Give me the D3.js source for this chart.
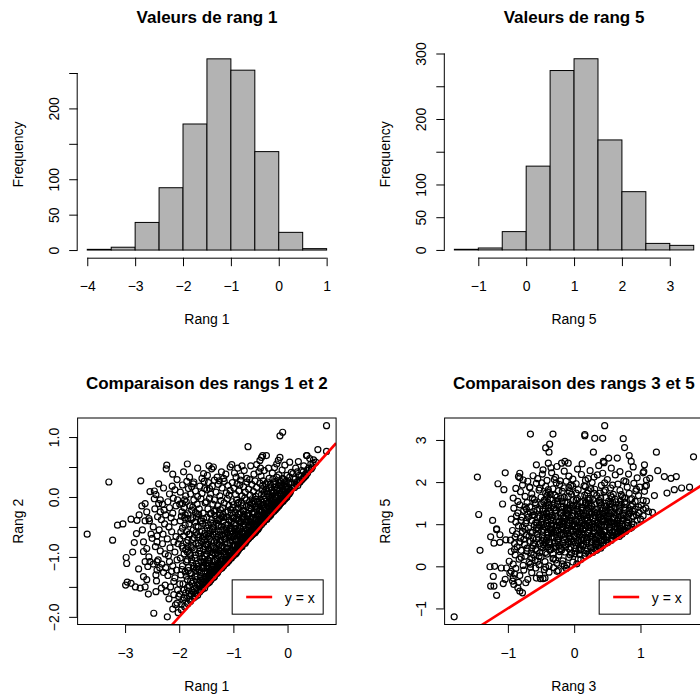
<!DOCTYPE html>
<html><head><meta charset="utf-8">
<script src="https://cdn.jsdelivr.net/npm/d3@7"></script>
<style>html,body{margin:0;padding:0;background:#fff;} svg{display:block;}</style>
</head><body>
<script>
// ---------------- DATA ----------------
const rang1Breaks = [-4,-3.5,-3,-2.5,-2,-1.5,-1,-0.5,0,0.5,1];
const rang1Counts = [1,4,39,88,178,270,254,139,25,2];
const rang5Breaks = [-1.5,-1,-0.5,0,0.5,1,1.5,2,2.5,3,3.5];
const rang5Counts = [1,3,28,128,274,292,168,89,10,7];

const hist1XTicks = [-4,-3,-2,-1,0,1];
const hist1YTicks = [0,50,100,150,200,250];
const hist1YLabels = ["0","50","100","","200",""];
const hist5XTicks = [-1,0,1,2,3];
const hist5YTicks = [0,50,100,150,200,250,300];
const hist5YLabels = ["0","50","100","","200","","300"];
const sc12XTicks = [-3,-2,-1,0];
const sc12YTicks = [-2,-1.5,-1,-0.5,0,0.5,1];
const sc12YLabels = ["−2.0","","−1.0","","0.0","","1.0"];
const sc35XTicks = [-1,0,1];
const sc35YTicks = [-1,0,1,2,3];
const sc35YLabels = ["−1","0","1","2","3"];

const mainTitles = ["Valeurs de rang 1","Valeurs de rang 5","Comparaison des rangs 1 et 2","Comparaison des rangs 3 et 5"];
const xTitles = ["Rang 1","Rang 5","Rang 1","Rang 3"];
const yTitles = ["Frequency","Frequency","Rang 2","Rang 5"];
const legendLabel = "y = x";

// scatter: [rang 1, rang 2]
const rang1VsRang2 = [
[-3.70,-0.62],[-3.30,0.25],[-3.23,-0.72],[-3.14,-0.47],[-3.04,-0.45],
[-2.98,-1.01],[-2.97,-1.11],[-2.99,-1.47],[-2.96,-1.42],[-2.89,-1.44],[-2.89,-0.37],[-2.78,-0.39],[-2.81,-1.50],[-2.72,-1.52],[-2.63,-1.50],[-2.57,-1.62],[-2.71,0.27],[-2.79,-0.61],[-2.83,-0.76],[-2.66,-0.75],[-2.54,0.09],[-2.69,-0.15],[-2.63,-0.11],[-2.60,-0.25],[-2.56,-0.36],[-2.63,-0.40],[-2.55,-0.40],[-2.66,-0.91],[-2.60,-0.86],[-2.56,-1.00],[-2.63,-1.08],[-2.54,-1.08],[-2.58,-1.16],[-2.66,-1.33],[-2.60,-1.38],[-2.75,-1.20],[-2.86,-0.92],[-2.68,-0.55],[-2.52,-0.62],[-2.74,-0.30],
[-2.41,-1.08],[-2.41,-1.22],[-2.43,-1.30],[-2.43,0.04],[-2.46,-0.03],[-2.38,-0.11],[-2.35,-0.25],[-2.41,-0.75],[-2.50,-0.69],[-2.43,-1.58],
[-2.47,-1.94],[-2.22,-2.00],[-2.23,0.53],[-2.24,0.47],[-2.12,0.38],[-2.04,0.29],[-2.13,0.18],
[-2.26,-1.47],[-2.10,-1.41],[-2.24,-1.58],[-2.10,-1.63],[-2.04,-1.77],[-2.07,-1.80],[-2.01,-1.66],
[-2.35,-0.05],[-2.31,-0.12],[-2.28,-0.22],[-2.25,-0.30],[-2.21,-0.08],[-2.18,-0.18],[-2.15,-0.35],[-2.12,-0.27],[-2.09,-0.42],[-2.06,-0.15],[-2.03,-0.05],[-2.33,-0.38],[-2.27,-0.45],[-2.19,-0.50],[-2.11,-0.02],[-2.45,-0.20],[-2.40,-0.33],
[-2.37,-0.55],[-2.30,-0.62],[-2.22,-0.70],[-2.14,-0.58],[-2.06,-0.66],[-2.44,-0.83],[-2.35,-0.90],[-2.26,-0.95],[-2.17,-0.85],[-2.08,-0.92],[-2.02,-0.78],
[-2.39,-1.05],[-2.32,-1.12],[-2.25,-1.18],[-2.18,-1.08],[-2.12,-1.15],[-2.05,-1.22],[-2.29,-1.26],[-2.21,-1.31],[-2.14,-1.24],[-2.08,-1.35],[-2.36,-1.18],[-2.48,-1.12],[-2.42,-1.40],[-2.33,-1.52],[-2.16,-1.50],[-2.03,-1.55],[-2.19,-1.70],[-2.12,-1.87],[-2.02,-1.93],
[-2.46,0.10],[-2.38,0.22],[-2.29,0.15],[-2.18,0.05],[-2.08,0.12],[-2.48,-0.50],[-2.41,-0.65],[-2.31,-0.78],[-2.20,-0.98],[-2.10,-0.75],[-2.04,-1.05],
[-1.85,0.55],[-1.73,0.25],[-1.77,0.17],[-1.58,0.31],[-1.55,0.39],[-1.54,0.26],[-1.92,0.42],[-1.66,0.48],[-1.81,0.33],
[-1.98,0.08],[-1.94,0.20],[-1.88,0.02],[-1.83,0.14],[-1.79,0.05],[-1.74,0.22],[-1.70,0.10],[-1.66,0.01],[-1.62,0.18],[-1.58,0.06],[-1.53,0.14],[-1.90,-0.05],[-1.86,0.26],
[-1.99,-0.12],[-1.95,-0.25],[-1.91,-0.18],[-1.87,-0.08],[-1.84,-0.28],[-1.80,-0.15],[-1.77,-0.22],[-1.73,-0.05],[-1.70,-0.26],[-1.67,-0.12],[-1.63,-0.20],[-1.60,-0.03],[-1.56,-0.27],[-1.52,-0.10],[-1.89,-0.30],[-1.75,-0.17],[-1.64,-0.29],
[-1.98,-0.40],[-1.94,-0.52],[-1.90,-0.35],[-1.86,-0.58],[-1.82,-0.45],[-1.78,-0.38],[-1.74,-0.55],[-1.71,-0.42],[-1.68,-0.33],[-1.65,-0.50],[-1.61,-0.40],[-1.58,-0.57],[-1.55,-0.36],[-1.51,-0.48],[-1.96,-0.32],[-1.84,-0.36],[-1.69,-0.59],[-1.57,-0.44],
[-1.99,-0.70],[-1.95,-0.82],[-1.92,-0.65],[-1.88,-0.88],[-1.84,-0.72],[-1.80,-0.62],[-1.76,-0.85],[-1.72,-0.68],[-1.69,-0.78],[-1.66,-0.63],[-1.62,-0.90],[-1.59,-0.74],[-1.55,-0.66],[-1.52,-0.83],[-1.87,-0.76],[-1.64,-0.81],
[-1.98,-1.02],[-1.94,-1.15],[-1.91,-0.95],[-1.87,-1.08],[-1.83,-1.18],[-1.79,-0.98],[-1.75,-1.10],[-1.71,-1.02],[-1.68,-1.19],[-1.64,-0.94],[-1.60,-1.07],[-1.57,-1.14],[-1.53,-0.99],[-1.85,-0.92],[-1.73,-1.16],
[-1.97,-1.30],[-1.93,-1.45],[-1.89,-1.25],[-1.85,-1.38],[-1.81,-1.48],[-1.78,-1.28],[-1.74,-1.40],[-1.70,-1.22],[-1.67,-1.33],[-1.63,-1.45],[-1.59,-1.26],[-1.55,-1.37],[-1.52,-1.24],
[-1.96,-1.88],[-1.93,-1.72],[-1.90,-1.83],[-1.88,-1.60],[-1.84,-1.78],[-1.81,-1.65],[-1.79,-1.74],[-1.76,-1.56],[-1.73,-1.68],[-1.70,-1.61],[-1.68,-1.52],[-1.66,-1.64],[-1.62,-1.58],[-1.59,-1.55],[-1.56,-1.50],[-1.53,-1.52],[-1.99,-1.62],[-1.91,-1.55],
[-1.48,0.36],[-1.40,0.47],[-1.37,0.50],[-1.30,0.33],[-1.22,0.42],[-1.14,0.38],[-1.06,0.50],[-1.03,0.54],[-1.45,0.52],[-1.18,0.31],
[-1.49,0.12],[-1.46,0.24],[-1.42,0.05],[-1.39,0.18],[-1.35,0.28],[-1.32,0.08],[-1.28,0.21],[-1.25,0.02],[-1.21,0.15],[-1.17,0.26],[-1.13,0.07],[-1.10,0.19],[-1.06,0.11],[-1.02,0.24],[-1.44,0.14],[-1.26,0.27],[-1.08,0.03],
[-1.50,-0.08],[-1.47,-0.20],[-1.44,-0.02],[-1.41,-0.27],[-1.38,-0.12],[-1.35,-0.05],[-1.32,-0.22],[-1.29,-0.15],[-1.26,-0.28],[-1.23,-0.06],[-1.20,-0.18],[-1.17,-0.10],[-1.14,-0.25],[-1.11,-0.03],[-1.08,-0.14],[-1.05,-0.21],[-1.02,-0.08],[-1.36,-0.24],[-1.19,-0.29],[-1.04,-0.27],
[-1.49,-0.34],[-1.46,-0.47],[-1.43,-0.56],[-1.40,-0.38],[-1.37,-0.50],[-1.34,-0.31],[-1.31,-0.44],[-1.28,-0.58],[-1.25,-0.36],[-1.22,-0.49],[-1.19,-0.41],[-1.16,-0.55],[-1.13,-0.33],[-1.10,-0.46],[-1.07,-0.39],[-1.04,-0.52],[-1.01,-0.35],[-1.42,-0.43],[-1.27,-0.47],[-1.12,-0.59],
[-1.50,-0.64],[-1.47,-0.78],[-1.44,-0.69],[-1.41,-0.85],[-1.38,-0.62],[-1.35,-0.74],[-1.32,-0.88],[-1.29,-0.67],[-1.26,-0.80],[-1.23,-0.72],[-1.20,-0.63],[-1.17,-0.84],[-1.14,-0.70],[-1.11,-0.77],[-1.08,-0.65],[-1.05,-0.89],[-1.02,-0.73],[-1.45,-0.87],[-1.30,-0.76],[-1.16,-0.61],
[-1.49,-0.95],[-1.46,-1.10],[-1.43,-1.02],[-1.40,-1.16],[-1.37,-0.93],[-1.34,-1.06],[-1.31,-1.18],[-1.28,-0.98],[-1.25,-1.12],[-1.22,-1.04],[-1.19,-0.92],[-1.16,-1.08],[-1.13,-0.97],[-1.10,-1.05],[-1.07,-0.94],[-1.04,-1.00],[-1.38,-1.14],[-1.24,-0.91],
[-1.48,-1.26],[-1.47,-1.44],[-1.45,-1.35],[-1.43,-1.22],[-1.41,-1.38],[-1.39,-1.30],[-1.37,-1.25],[-1.35,-1.33],[-1.33,-1.21],[-1.31,-1.28],[-1.29,-1.24],[-1.27,-1.22],[-1.25,-1.20],[-1.46,-1.40],[-1.42,-1.28],[-1.36,-1.20],[-1.50,-1.46],[-1.44,-1.42],[-1.21,-1.18],[-1.18,-1.15],[-1.15,-1.12],[-1.12,-1.10],
[-0.73,0.84],[-0.98,0.40],[-0.92,0.48],[-0.86,0.35],[-0.80,0.44],[-0.75,0.31],[-0.68,0.52],[-0.62,0.38],[-0.57,0.54],[-0.53,0.42],[-0.95,0.33],[-0.84,0.52],[-0.51,0.61],[-0.46,0.69],[-0.50,0.48],
[-0.99,0.15],[-0.96,0.04],[-0.93,0.22],[-0.90,0.10],[-0.87,0.28],[-0.84,0.02],[-0.81,0.17],[-0.78,0.08],[-0.75,0.25],[-0.72,0.13],[-0.69,0.03],[-0.66,0.21],[-0.63,0.09],[-0.60,0.27],[-0.57,0.16],[-0.54,0.05],[-0.51,0.23],[-0.88,0.20],[-0.70,0.29],[-0.59,0.01],
[-1.00,-0.13],[-0.97,-0.25],[-0.94,-0.05],[-0.91,-0.19],[-0.88,-0.28],[-0.85,-0.10],[-0.82,-0.22],[-0.79,-0.02],[-0.76,-0.16],[-0.73,-0.27],[-0.70,-0.08],[-0.67,-0.20],[-0.64,-0.12],[-0.61,-0.26],[-0.58,-0.04],[-0.55,-0.17],[-0.52,-0.24],[-0.92,-0.11],[-0.80,-0.29],[-0.65,-0.03],[-0.53,-0.09],
[-0.99,-0.35],[-0.96,-0.48],[-0.93,-0.57],[-0.90,-0.40],[-0.87,-0.52],[-0.84,-0.33],[-0.81,-0.45],[-0.78,-0.58],[-0.75,-0.38],[-0.72,-0.50],[-0.69,-0.42],[-0.66,-0.55],[-0.63,-0.34],[-0.60,-0.47],[-0.57,-0.39],[-0.54,-0.52],[-0.51,-0.31],[-0.97,-0.55],[-0.82,-0.37],[-0.62,-0.58],
[-0.99,-0.66],[-0.97,-0.80],[-0.95,-0.71],[-0.93,-0.87],[-0.91,-0.63],[-0.89,-0.76],[-0.87,-0.84],[-0.85,-0.68],[-0.83,-0.79],[-0.81,-0.62],[-0.79,-0.73],[-0.77,-0.66],[-0.75,-0.70],[-0.73,-0.64],[-0.71,-0.61],[-0.69,-0.65],[-0.67,-0.62],[-0.65,-0.63],[-0.63,-0.61],[-0.98,-0.92],[-0.96,-0.95],[-0.92,-0.90],[-0.90,-0.86],[-0.86,-0.82],[-0.76,-0.74],[-0.58,-0.57],[-0.55,-0.53],[-0.52,-0.50],
[-1.00,-0.98],[-0.94,-0.93],[-0.88,-0.85],[-0.84,-0.83],[-0.78,-0.77],[-0.72,-0.68],[-0.68,-0.66],[-0.60,-0.59],
[-0.48,0.66],[-0.39,0.69],[-0.14,0.66],[-0.17,0.61],[-0.20,0.55],[-0.05,0.53],[-0.14,1.02],[-0.09,1.08],
[-0.49,0.35],[-0.46,0.12],[-0.43,0.44],[-0.40,0.22],[-0.37,0.05],[-0.34,0.31],[-0.31,0.17],[-0.28,0.40],[-0.25,0.08],[-0.22,0.26],[-0.19,0.14],[-0.16,0.37],[-0.13,0.20],[-0.10,0.45],[-0.07,0.29],[-0.04,0.10],[-0.01,0.36],[-0.35,0.48],[-0.24,0.49],[-0.45,0.27],[-0.29,0.02],
[-0.50,-0.12],[-0.47,-0.25],[-0.44,-0.04],[-0.41,-0.18],[-0.38,-0.29],[-0.35,-0.09],[-0.32,-0.21],[-0.29,-0.14],[-0.26,-0.03],[-0.23,-0.17],[-0.20,-0.08],[-0.17,-0.13],[-0.14,-0.06],[-0.11,-0.02],[-0.42,-0.30],[-0.33,-0.27],
[-0.49,-0.40],[-0.48,-0.46],[-0.46,-0.35],[-0.44,-0.42],[-0.42,-0.38],[-0.40,-0.34],[-0.38,-0.37],[-0.36,-0.32],[-0.34,-0.33],[-0.31,-0.30],[-0.28,-0.26],[-0.25,-0.24],[-0.22,-0.21],[-0.19,-0.18],[-0.16,-0.15],[-0.12,-0.10],[-0.08,-0.07],[-0.05,-0.04],[-0.02,-0.01],
[0.04,0.58],[0.20,0.59],[0.35,0.69],[0.41,0.64],[0.36,0.69],[0.02,0.22],[0.05,0.08],[0.07,0.41],[0.09,0.15],[0.11,0.30],[0.13,0.16],[0.15,0.48],[0.17,0.25],[0.19,0.19],[0.22,0.36],[0.24,0.27],[0.26,0.44],[0.28,0.31],[0.30,0.52],[0.33,0.38],[0.36,0.45],[0.39,0.48],[0.43,0.55],[0.46,0.50],[0.48,0.62],[0.03,0.05],
[0.72,1.19],[0.72,0.76],[0.56,0.79],
[-1.79,-1.41],[-1.77,-1.05],[-1.76,-0.71],[-1.74,-1.59],[-1.72,-0.88],[-1.71,-1.33],[-1.69,-0.49],[-1.68,-1.12],[-1.66,-1.47],[-1.65,-0.77],[-1.63,-1.21],[-1.62,-0.58],[-1.61,-1.39],[-1.60,-0.95],[-1.58,-1.18],[-1.57,-0.69],[-1.56,-1.43],[-1.55,-0.87],[-1.54,-1.09],[-1.53,-0.61],[-1.52,-1.33],[-1.51,-0.79],[-1.81,-0.94],[-1.78,-1.62],[-1.75,-0.35],[-1.70,-1.66],[-1.67,-0.28],[-1.64,-1.55],[-1.59,-0.40],[-1.57,-1.53],
[-1.49,-1.15],[-1.48,-0.52],[-1.47,-0.89],[-1.46,-1.31],[-1.45,-0.61],[-1.44,-1.07],[-1.43,-0.28],[-1.42,-1.36],[-1.41,-0.73],[-1.40,-0.97],[-1.39,-1.21],[-1.38,-0.44],[-1.37,-0.83],[-1.36,-1.34],[-1.35,-0.58],[-1.34,-0.95],[-1.33,-1.27],[-1.32,-0.37],[-1.31,-0.71],[-1.30,-1.05],[-1.29,-1.26],[-1.28,-0.49],[-1.27,-0.88],[-1.26,-1.17],[-1.25,-0.63],[-1.24,-0.21],[-1.23,-0.98],[-1.22,-1.19],[-1.21,-0.55],[-1.20,-0.82],[-1.19,-1.13],[-1.18,-0.34],[-1.17,-0.96],[-1.16,-0.70],[-1.15,-1.09],[-1.14,-0.47],[-1.13,-0.86],[-1.12,-1.04],[-1.11,-0.60],[-1.10,-0.25],[-1.09,-0.92],[-1.08,-1.06],[-1.07,-0.53],[-1.06,-0.77],[-1.05,-0.99],[-1.04,-0.41],[-1.03,-0.66],[-1.02,-0.95],[-1.01,-0.18],[-1.00,-0.83],
[-1.485,-1.38],[-1.455,-1.19],[-1.415,-1.25],[-1.385,-1.32],[-1.345,-1.16],[-1.315,-1.22],[-1.275,-1.10],[-1.245,-1.15],[-1.205,-1.07],[-1.175,-1.12],[-1.135,-1.01],[-1.105,-1.08],[-1.065,-0.99],[-1.035,-1.02],
[-0.99,-0.81],[-0.98,-0.44],[-0.97,-0.62],[-0.96,-0.89],[-0.95,-0.21],[-0.94,-0.74],[-0.93,-0.38],[-0.92,-0.81],[-0.91,-0.56],[-0.90,-0.09],[-0.89,-0.67],[-0.88,-0.43],[-0.87,-0.77],[-0.86,-0.26],[-0.85,-0.58],[-0.84,-0.71],[-0.83,-0.15],[-0.82,-0.49],[-0.81,-0.76],[-0.80,-0.33],[-0.79,-0.61],[-0.78,-0.72],[-0.77,-0.42],[-0.76,-0.05],[-0.75,-0.56],[-0.74,-0.69],[-0.73,-0.31],[-0.72,-0.60],[-0.71,-0.47],[-0.70,-0.19],[-0.69,-0.63],[-0.68,-0.36],[-0.67,-0.54],[-0.66,-0.10],[-0.65,-0.44],[-0.64,-0.61],[-0.63,-0.25],[-0.62,-0.50],[-0.61,-0.39],[-0.60,-0.56],[-0.59,-0.16],[-0.58,-0.45],[-0.57,-0.53],[-0.56,-0.30],[-0.55,-0.07],[-0.54,-0.41],[-0.53,-0.49],[-0.52,-0.22],[-0.51,-0.44],[-0.50,-0.35],
[-0.965,-0.90],[-0.935,-0.84],[-0.905,-0.88],[-0.875,-0.79],[-0.845,-0.80],[-0.815,-0.70],[-0.785,-0.75],[-0.755,-0.65],[-0.725,-0.70],[-0.695,-0.58],[-0.665,-0.64],[-0.635,-0.55],[-0.605,-0.60],[-0.575,-0.50],[-0.545,-0.54],[-0.515,-0.46],
[-0.49,-0.21],[-0.48,0.04],[-0.47,-0.37],[-0.46,0.19],[-0.45,-0.13],[-0.44,-0.31],[-0.43,0.08],[-0.42,-0.22],[-0.41,-0.38],[-0.40,0.13],[-0.39,-0.07],[-0.38,-0.20],[-0.37,0.25],[-0.36,-0.15],[-0.35,-0.31],[-0.34,0.02],[-0.33,-0.10],[-0.32,0.21],[-0.31,-0.24],[-0.30,-0.05],[-0.29,0.11],[-0.28,-0.19],[-0.27,0.30],[-0.26,-0.09],[-0.25,-0.18],[-0.24,0.16],[-0.23,-0.01],[-0.22,-0.14],[-0.21,0.07],[-0.20,0.33],[-0.19,-0.11],[-0.18,0.02],[-0.17,0.19],[-0.16,-0.07],[-0.15,0.10],[-0.14,-0.03],[-0.13,0.26],[-0.12,0.04],[-0.11,-0.08],[-0.10,0.14],[-0.09,0.31],[-0.08,0.01],[-0.07,0.09],[-0.06,0.22],[-0.05,-0.02],[-0.04,0.17],[-0.03,0.05],[-0.02,0.27],[-0.01,0.12],[0.00,0.03],
[-1.99,-1.45],[-1.97,-0.58],[-1.95,-1.21],[-1.93,-0.86],[-1.91,-1.68],[-1.89,-0.47],[-1.87,-1.32],[-1.85,-1.05],[-1.83,-1.57],[-1.82,-0.62],[-1.80,-1.27],[-1.96,-1.79],[-1.94,-0.11],[-1.86,-1.69],[-1.84,-0.83],
[0.01,0.14],[0.04,0.33],[0.06,0.11],[0.08,0.24],[0.10,0.39],[0.12,0.19],[0.14,0.30],[0.16,0.21],[0.18,0.42],[0.21,0.28],[0.23,0.25],[0.25,0.35],[0.27,0.29],[0.29,0.42],[0.31,0.33],[0.34,0.36],[0.37,0.40],[0.40,0.45],[0.44,0.47],[0.47,0.56],[0.52,0.58],
[-1.58,-1.02],[-1.55,-1.27],[-1.53,-0.72],[-1.51,-1.41],[-1.49,-0.80],[-1.47,-1.05],[-1.46,-0.66],[-1.44,-1.29],[-1.42,-0.91],[-1.40,-1.33],[-1.39,-0.55],[-1.37,-1.08],[-1.35,-0.86],[-1.34,-1.25],[-1.32,-0.62],[-1.30,-0.93],[-1.29,-1.17],[-1.27,-0.39],[-1.26,-0.74],[-1.24,-1.08],[-1.22,-0.85],[-1.21,-0.33],[-1.19,-1.04],[-1.18,-0.66],[-1.16,-0.91],[-1.14,-1.10],[-1.13,-0.52],[-1.11,-0.85],[-1.10,-0.99],[-1.08,-0.38],[-1.07,-0.72],[-1.05,-0.90],[-1.04,-0.57],[-1.02,-0.97],[-1.01,-0.62],
[-0.99,-0.52],[-0.97,-0.91],[-0.95,-0.37],[-0.94,-0.64],[-0.92,-0.85],[-0.91,-0.29],[-0.89,-0.53],[-0.87,-0.69],[-0.86,-0.41],[-0.84,-0.79],[-0.83,-0.58],[-0.81,-0.24],[-0.80,-0.69],[-0.78,-0.47],[-0.77,-0.74],[-0.75,-0.31],[-0.74,-0.62],[-0.72,-0.42],[-0.71,-0.68],[-0.69,-0.14],[-0.68,-0.50],[-0.66,-0.60],[-0.65,-0.27],[-0.63,-0.46],[-0.62,-0.07],[-0.60,-0.36],[-0.59,-0.54],[-0.57,-0.21],[-0.56,-0.47],[-0.54,-0.32],[-0.53,-0.12],[-0.51,-0.39],
[-0.49,-0.30],[-0.47,-0.09],[-0.46,-0.42],[-0.44,-0.19],[-0.43,0.02],[-0.41,-0.33],[-0.40,-0.11],[-0.38,0.09],[-0.37,-0.26],[-0.35,-0.18],[-0.34,0.14],[-0.32,-0.29],[-0.31,-0.02],[-0.29,-0.22],[-0.28,0.06],[-0.26,-0.14],[-0.25,0.22],[-0.23,-0.20],[-0.22,0.01],[-0.20,-0.15],[-0.19,0.11],[-0.17,-0.09],[-0.16,0.24],[-0.14,-0.12],[-0.13,0.07],[-0.11,0.19],[-0.10,-0.05],[-0.08,0.12],[-0.07,-0.03],[-0.05,0.25],[-0.04,0.04],[-0.02,0.17],[-0.01,0.00],
[-1.85,-1.51],[-1.83,-1.23],[-1.80,-1.71],[-1.78,-0.83],[-1.76,-1.44],[-1.74,-1.19],[-1.72,-1.53],[-1.70,-0.97],[-1.68,-1.38],[-1.66,-1.16],[-1.64,-0.68],[-1.62,-1.49],[-1.60,-1.33],[-1.59,-1.09],[-1.57,-1.46],[-1.55,-1.19],[-1.53,-1.38],[-1.51,-1.11]
];

// scatter: [rang 3, rang 5]
const rang3VsRang5 = [
[-1.81,-1.20],[-0.66,3.14],[-0.32,3.14],[-0.43,2.81],[-0.37,2.90],[-0.38,2.71],[-1.46,2.12],[-1.04,2.22],[-1.15,1.96],[-1.06,1.82],[-1.08,1.48],[-1.44,1.23],[-1.23,1.09],[-1.17,0.89],[-1.26,0.70],[-1.21,0.55],[-1.12,0.57],[-1.03,0.63],[-1.12,0.75],[-1.17,0.87],[-1.42,0.38],[-1.27,-0.01],[-1.20,0.00],[-1.10,-0.04],[-1.02,-0.04],[-1.22,-0.24],[-1.26,-0.47],[-1.21,-0.47],[-1.17,-0.69],[-1.07,-0.41],[-1.04,-0.31],[-0.92,-0.28],[-0.90,-0.18],[-0.97,-0.16],[-0.93,-0.35],[-0.91,-0.43],[-0.85,-0.51],[-0.82,-0.59],[-0.78,-0.63],[-0.73,-0.39],[-0.57,-0.28],[-0.51,-0.29],[-0.47,-0.29],[-0.44,-0.28],[-0.26,-0.12],
[0.46,3.34],[0.16,3.10],[0.16,3.13],[0.31,3.04],[0.43,3.04],[0.74,3.03],[0.76,2.82],[0.83,2.63],[0.86,2.49],[0.29,2.71],[1.24,2.71],[1.80,2.60],[0.65,2.57],[0.52,2.57],[0.44,2.49],[1.06,2.41],[1.26,2.27],[1.36,2.13],[1.46,2.09],[1.54,2.13],[1.51,1.82],[1.62,1.86],[1.74,1.88],[1.40,1.74],[1.21,1.68],[1.18,1.28],[1.14,2.09],[1.05,2.25],[1.07,1.90],[1.09,1.55],[1.04,1.35],
[-0.82,2.21],[-0.84,2.13],[-0.82,2.10],[-0.77,2.05],[-0.57,2.41],[-0.47,2.29],[-0.39,2.45],[-0.26,2.37],[-0.19,2.45],[-0.14,2.49],[-0.09,2.45],
[-0.70,2.02],[-0.62,2.15],[-0.55,2.08],[-0.48,2.19],[-0.41,2.04],[-0.34,2.22],[-0.28,2.11],[-0.21,2.03],[-0.15,2.26],[-0.08,2.14],[-0.02,2.07],[0.05,2.31],[0.11,2.18],[0.17,2.04],[0.24,2.27],[0.30,2.12],[0.37,2.39],[0.43,2.21],[0.50,2.06],[0.56,2.33],[0.62,2.17],[0.69,2.25],[0.75,2.03],[0.82,2.19],[0.89,2.36],[0.95,2.10],[1.04,2.22],[1.09,2.05],[0.12,2.43],[0.45,2.46],[-0.35,2.34],
[-0.92,1.62],[-0.88,1.85],[-0.85,1.54],[-0.81,1.77],[-0.78,1.93],[-0.74,1.66],[-0.71,1.51],[-0.67,1.88],[-0.64,1.72],[-0.60,1.58],[-0.57,1.97],[-0.53,1.81],[-0.50,1.64],[-0.46,1.53],[-0.43,1.90],[-0.39,1.75],[-0.36,1.60],[-0.32,1.84],[-0.29,1.69],[-0.25,1.55],[-0.22,1.94],[-0.18,1.78],[-0.15,1.63],[-0.11,1.51],[-0.08,1.87],[-0.04,1.71],[-0.01,1.58],[0.03,1.96],[0.06,1.82],[0.10,1.67],[0.13,1.53],[0.17,1.89],[0.20,1.74],[0.24,1.61],[0.27,1.99],[0.31,1.83],[0.34,1.68],[0.38,1.52],[0.41,1.92],[0.45,1.77],[0.48,1.63],[0.52,1.55],[0.55,1.86],[0.59,1.71],[0.62,1.59],[0.66,1.95],[0.69,1.80],[0.73,1.65],[0.76,1.52],[0.80,1.88],[0.83,1.73],[0.87,1.60],[0.90,1.97],[0.94,1.83],[0.97,1.68],[1.04,1.56],[1.06,1.78],[1.09,1.92],[-0.02,1.90],[0.22,1.57],[0.46,1.98],[-0.40,1.52],[0.70,1.55],[-0.27,1.98],
[-0.95,1.12],[-0.91,1.38],[-0.88,1.05],[-0.85,1.27],[-0.82,1.46],[-0.79,1.17],[-0.76,1.33],[-0.73,1.02],[-0.70,1.24],[-0.67,1.41],[-0.64,1.09],[-0.61,1.30],[-0.58,1.48],[-0.55,1.15],[-0.52,1.36],[-0.49,1.04],[-0.46,1.22],[-0.43,1.44],[-0.40,1.11],[-0.37,1.29],[-0.34,1.01],[-0.31,1.39],[-0.28,1.18],[-0.25,1.47],[-0.22,1.07],[-0.19,1.26],[-0.16,1.42],[-0.13,1.13],[-0.10,1.34],[-0.07,1.03],[-0.04,1.21],[-0.01,1.45],[0.02,1.10],[0.05,1.31],[0.08,1.06],[0.11,1.40],[0.14,1.19],[0.17,1.49],[0.20,1.08],[0.23,1.28],[0.26,1.43],[0.29,1.14],[0.32,1.35],[0.35,1.02],[0.38,1.23],[0.41,1.46],[0.44,1.11],[0.47,1.32],[0.50,1.05],[0.53,1.25],[0.56,1.41],[0.59,1.16],[0.62,1.37],[0.65,1.08],[0.68,1.29],[0.71,1.47],[0.74,1.13],[0.77,1.33],[0.80,1.04],[0.83,1.24],[0.86,1.42],[0.89,1.18],[0.92,1.36],[0.95,1.10],[0.98,1.27],[1.01,1.45],[1.04,1.20],[1.08,1.38],[1.12,1.30],
[-0.87,1.20],[-0.80,1.09],[-0.72,1.36],[-0.63,1.21],[-0.56,1.03],[-0.47,1.31],[-0.39,1.44],[-0.33,1.16],[-0.24,1.04],[-0.18,1.35],[-0.09,1.22],[-0.03,1.09],[0.04,1.44],[0.09,1.25],[0.16,1.12],[0.22,1.38],[0.28,1.01],[0.34,1.26],[0.40,1.17],[0.46,1.43],[0.52,1.12],[0.58,1.30],[0.64,1.02],[0.70,1.19],[0.76,1.40],[0.82,1.10],[0.88,1.31],[0.94,1.21],[-0.15,1.16],[0.12,1.33],[0.31,1.48],[-0.42,1.27],[0.55,1.49],[0.73,1.26],[-0.06,1.38],[0.19,1.22],[-0.27,1.32],[0.43,1.06],
[-0.96,0.62],[-0.93,0.85],[-0.90,0.54],[-0.87,0.77],[-0.84,0.96],[-0.81,0.67],[-0.78,0.83],[-0.75,0.52],[-0.72,0.74],[-0.69,0.91],[-0.66,0.59],[-0.63,0.80],[-0.60,0.98],[-0.57,0.65],[-0.54,0.86],[-0.51,0.54],[-0.48,0.72],[-0.45,0.94],[-0.42,0.61],[-0.39,0.79],[-0.36,0.51],[-0.33,0.89],[-0.30,0.68],[-0.27,0.97],[-0.24,0.57],[-0.21,0.76],[-0.18,0.92],[-0.15,0.63],[-0.12,0.84],[-0.09,0.53],[-0.06,0.71],[-0.03,0.95],[0.00,0.60],[0.03,0.81],[0.06,0.56],[0.09,0.90],[0.12,0.69],[0.15,0.99],[0.18,0.58],[0.21,0.78],[0.24,0.93],[0.27,0.64],[0.30,0.85],[0.33,0.52],[0.36,0.73],[0.39,0.96],[0.42,0.61],[0.45,0.82],[0.48,0.55],[0.51,0.75],[0.54,0.91],[0.57,0.66],[0.60,0.87],[0.63,0.70],[0.66,0.79],[0.69,0.95],[0.72,0.76],[0.75,0.88],[0.78,0.83],[0.81,0.97],[0.84,0.90],[0.87,0.93],[0.90,0.99],
[-0.89,0.70],[-0.82,0.58],[-0.74,0.88],[-0.68,0.72],[-0.61,0.55],[-0.53,0.97],[-0.46,0.66],[-0.38,0.57],[-0.31,0.80],[-0.25,0.71],[-0.17,0.55],[-0.11,0.97],[-0.04,0.64],[0.02,0.89],[0.08,0.74],[0.14,0.52],[0.20,0.95],[0.26,0.72],[0.32,0.63],[0.38,0.88],[0.44,0.70],[0.50,0.97],[0.56,0.62],[0.62,0.93],[0.68,0.71],[0.74,0.81],[-0.56,0.76],[-0.20,0.86],[0.11,0.61],[0.41,0.78],[-0.35,0.69],[0.05,0.77],
[-0.98,0.12],[-0.95,0.35],[-0.92,0.05],[-0.89,0.27],[-0.86,0.46],[-0.83,0.17],[-0.80,0.38],[-0.77,0.02],[-0.74,0.24],[-0.71,0.43],[-0.68,0.09],[-0.65,0.31],[-0.62,0.49],[-0.59,0.14],[-0.56,0.37],[-0.53,0.04],[-0.50,0.22],[-0.47,0.44],[-0.44,0.11],[-0.41,0.29],[-0.38,0.01],[-0.35,0.40],[-0.32,0.18],[-0.29,0.47],[-0.26,0.07],[-0.23,0.26],[-0.20,0.42],[-0.17,0.13],[-0.14,0.34],[-0.11,0.03],[-0.08,0.21],[-0.05,0.45],[-0.02,0.10],[0.01,0.30],[0.04,0.06],[0.07,0.39],[0.10,0.16],[0.13,0.48],[0.16,0.25],[0.19,0.36],[0.22,0.29],[0.25,0.44],[0.28,0.33],[0.31,0.41],[0.34,0.38],[0.37,0.46],[0.40,0.43],[0.43,0.49],[-0.90,0.40],[-0.64,0.20],[-0.40,0.46],[-0.15,0.01],[0.08,0.28],[-0.52,0.32],[-0.28,0.15],[0.02,0.42],
[-0.95,-0.12],[-0.88,-0.05],[-0.82,-0.22],[-0.76,-0.09],[-0.70,-0.31],[-0.64,-0.15],[-0.58,-0.04],[-0.52,-0.20],[-0.45,-0.08],[-0.38,-0.14],[-0.31,-0.03],[-0.24,-0.10],[-0.84,-0.38],[-0.66,-0.02],[-0.12,-0.05],
[-0.78,0.93],[-0.74,1.41],[-0.71,0.36],[-0.69,1.17],[-0.66,0.81],[-0.63,1.62],[-0.61,0.27],[-0.58,1.04],[-0.56,1.33],[-0.54,0.69],[-0.52,1.86],[-0.50,0.47],[-0.48,1.13],[-0.47,0.88],[-0.45,1.57],[-0.43,0.33],[-0.42,1.02],[-0.40,0.74],[-0.39,1.38],[-0.37,0.58],[-0.36,1.71],[-0.34,0.95],[-0.33,1.21],[-0.31,0.43],[-0.30,1.49],[-0.28,0.83],[-0.27,1.08],[-0.25,0.62],[-0.24,1.79],[-0.22,0.98],[-0.21,1.27],[-0.19,0.39],[-0.18,1.55],[-0.16,0.77],[-0.15,1.06],[-0.13,0.51],[-0.12,1.36],[-0.10,0.89],[-0.09,1.66],[-0.07,0.67],[-0.06,1.15],[-0.04,0.31],[-0.03,1.43],[-0.01,0.84],[0.00,1.01],[0.02,0.56],[0.03,1.74],[0.05,0.93],[0.06,1.24],[0.08,0.45],[0.09,1.52],[0.11,0.79],[0.12,1.09],[0.14,0.62],[0.15,1.91],[0.17,0.97],[0.18,1.31],[0.20,0.41],[0.21,1.61],[0.23,0.86],[0.24,1.17],[0.26,0.55],[0.27,1.42],[0.29,0.92],[0.30,1.73],[0.32,0.68],[0.33,1.04],[0.35,1.29],[0.36,0.49],[0.38,1.56],[0.39,0.81],[0.41,1.12],[0.42,0.60],[0.44,1.37],[0.45,0.94],[0.47,1.81],[0.48,0.71],[0.50,1.19],[0.51,0.57],[0.53,1.47],[0.54,0.86],[0.56,1.05],[0.57,1.64],[0.59,0.73],[0.60,1.26],[0.62,0.95],[0.63,1.53],[0.65,0.78],[0.66,1.11],[0.68,1.38],[0.69,0.84],[0.71,1.70],[0.72,0.99],[0.74,1.22],[0.75,0.86],[0.77,1.48],[0.79,1.07],[0.81,0.91],[0.83,1.33],[0.85,1.58],[0.87,1.01],[0.89,1.19],
[-0.76,0.64],[-0.72,1.08],[-0.67,1.87],[-0.64,0.43],[-0.60,1.22],[-0.57,0.91],[-0.53,0.24],[-0.49,1.49],[-0.46,0.99],[-0.44,0.56],[-0.41,1.68],[-0.38,1.18],[-0.35,0.85],[-0.32,0.29],[-0.29,1.33],[-0.26,0.93],[-0.23,0.48],[-0.20,1.62],[-0.17,1.01],[-0.14,0.71],[-0.11,1.25],[-0.08,0.42],[-0.05,1.92],[-0.02,0.99],[0.01,0.73],[0.04,1.36],[0.07,0.61],[0.10,1.15],[0.13,0.87],[0.16,1.45],[0.19,0.68],[0.22,1.03],[0.25,1.84],[0.28,0.77],[0.31,1.21],[0.34,0.58],[0.37,0.99],[0.40,1.51],[0.43,0.74],[0.46,1.27],[0.49,0.63],[0.52,1.02],[0.55,1.68],[0.58,0.82],[0.61,1.14],[0.64,0.72],[0.67,1.45],[0.70,0.89],[0.73,1.08],[0.76,1.62],[0.80,1.16],[0.84,1.27],[0.88,1.48],[0.92,1.54],
[-0.55,0.12],[-0.43,-0.02],[-0.31,0.19],[-0.18,0.06],[-0.06,0.27],[0.06,0.17],[0.17,0.31],[0.27,0.37],[-0.66,0.05],[-0.80,0.21],[-0.49,1.98],[-0.12,2.02],[0.21,2.08],[0.58,1.93],[0.35,2.17],[-0.30,2.06],[0.78,2.01],[0.93,1.79],[0.97,1.41],[1.00,1.12],[0.99,1.88],
[-0.49,0.83],[-0.47,1.36],[-0.46,0.51],[-0.44,1.16],[-0.43,1.73],[-0.41,0.68],[-0.40,0.95],[-0.38,1.47],[-0.37,0.39],[-0.35,1.11],[-0.34,0.79],[-0.32,1.58],[-0.31,0.97],[-0.29,0.55],[-0.28,1.26],[-0.26,1.64],[-0.25,0.86],[-0.23,1.05],[-0.22,0.35],[-0.20,1.41],[-0.19,0.74],[-0.17,1.19],[-0.16,0.93],[-0.14,1.52],[-0.13,0.46],[-0.11,1.07],[-0.10,0.78],[-0.08,1.31],[-0.07,1.77],[-0.05,0.88],[-0.04,0.58],[-0.02,1.18],[-0.01,1.39],[0.01,0.94],[0.02,0.36],[0.04,1.08],[0.05,1.61],[0.07,0.82],[0.08,1.29],[0.10,0.51],[0.11,1.02],[0.13,1.38],[0.14,0.76],[0.16,1.69],[0.17,0.91],[0.19,1.14],[0.20,0.63],[0.22,1.47],[0.23,0.98],[0.25,0.44],[0.26,1.24],[0.28,1.58],[0.29,0.81],[0.31,1.07],[0.32,0.54],[0.34,1.35],[0.35,0.91],[0.37,1.19],[0.38,0.67],[0.40,1.62],[0.41,0.98],[0.43,1.26],[0.44,0.53],[0.46,1.09],[0.47,0.84],[0.49,1.42],[0.50,0.68],[0.52,1.15],[0.53,0.93],[0.55,1.33],[0.57,0.74],[0.58,1.52],[0.60,1.01],[0.61,0.81],[0.63,1.21],[0.65,0.90],[0.67,1.30],[0.69,1.03],[0.71,0.83],[-0.66,1.28],[-0.62,0.66],[-0.59,1.51],[-0.55,0.92],[-0.52,1.18],[-0.58,0.41],
[-0.48,0.61],[-0.42,1.25],[-0.36,0.88],[-0.30,1.39],[-0.24,0.66],[-0.18,1.08],[-0.12,0.86],[-0.06,1.46],[0.00,0.71],[0.06,1.19],[0.12,0.96],[0.18,1.52],[0.24,0.71],[0.30,1.30],[0.36,1.04],[0.42,0.77],[0.48,1.21],[0.54,1.06],[0.60,0.71],[0.66,1.01],[-0.27,0.47],[-0.09,0.59],[0.09,0.39],[0.27,0.59],[0.45,0.62],[-0.39,1.82],[-0.15,1.86],[0.03,1.57],[0.21,1.80],[0.39,1.74]
];

// ---------------- LAYOUT / STYLE ----------------
const W = 700, H = 695;
const FONT = "'Liberation Sans', Arial, Helvetica, sans-serif";
const PW = 258.5, PH = 206.5;
const TICK = 8.5;
const panels = [
  {left: 77.7,  top: 51.2},
  {left: 444.8, top: 51.1},
  {left: 77.6,  top: 418.0},
  {left: 444.6, top: 418.0}
];
const fmt = v => String(v).replace("-", "−");
const rExpand = ([a, b]) => [a - 0.04 * (b - a), b + 0.04 * (b - a)];

const svg = d3.select("body").append("svg")
  .attr("width", W).attr("height", H)
  .style("font-family", FONT);
svg.append("rect").attr("width", W).attr("height", H).attr("fill", "#fff");

function frame(i, xDom, yDom) {
  const p = panels[i];
  const x = d3.scaleLinear().domain(xDom).range([p.left, p.left + PW]);
  const y = d3.scaleLinear().domain(yDom).range([p.top + PH, p.top]);
  return {p, x, y};
}

function axes(f, i, xTicks, xLabels, yTicks, yLabels) {
  const {p, x, y} = f;
  const gx = svg.append("g").attr("transform", `translate(0,${p.top + PH})`)
    .call(d3.axisBottom(x).tickValues(xTicks).tickSize(TICK)
      .tickFormat((d, k) => xLabels ? xLabels[k] : fmt(d)));
  gx.select(".domain").remove();
  gx.append("line").attr("x1", x(xTicks[0])).attr("x2", x(xTicks[xTicks.length - 1]))
    .attr("y1", 0.5).attr("y2", 0.5).attr("stroke", "#000");
  gx.selectAll(".tick line").attr("stroke", "#000");
  gx.selectAll(".tick text").attr("y", 33.5).attr("dy", null)
    .attr("fill", "#000").style("font-size", "14px").style("font-family", FONT);

  const gy = svg.append("g").attr("transform", `translate(${p.left},0)`)
    .call(d3.axisLeft(y).tickValues(yTicks).tickSize(TICK)
      .tickFormat((d, k) => yLabels ? yLabels[k] : fmt(d)));
  gy.select(".domain").remove();
  gy.append("line").attr("y1", y(yTicks[0])).attr("y2", y(yTicks[yTicks.length - 1]))
    .attr("x1", -0.5).attr("x2", -0.5).attr("stroke", "#000");
  gy.selectAll(".tick line").attr("stroke", "#000");
  gy.selectAll(".tick text").attr("x", null).attr("dy", null)
    .attr("transform", "translate(-18.4,0) rotate(-90)")
    .attr("text-anchor", "middle")
    .attr("fill", "#000").style("font-size", "14px").style("font-family", FONT);

  svg.append("text").attr("x", p.left + PW / 2).attr("y", p.top - 28.6)
    .attr("text-anchor", "middle").style("font-size", "17px").style("font-weight", "bold")
    .text(mainTitles[i]);
  svg.append("text").attr("x", p.left + PW / 2).attr("y", p.top + PH + 66.4)
    .attr("text-anchor", "middle").style("font-size", "14px")
    .text(xTitles[i]);
  svg.append("text")
    .attr("transform", `translate(${p.left - 55},${p.top + PH / 2}) rotate(-90)`)
    .attr("text-anchor", "middle").style("font-size", "14px")
    .text(yTitles[i]);
}

function histogram(i, breaks, counts, xTicks, yTicks, yLabels) {
  const f = frame(i, rExpand([breaks[0], breaks[breaks.length - 1]]), rExpand([0, d3.max(counts)]));
  const bins = counts.map((c, k) => ({x0: breaks[k], x1: breaks[k + 1], c}));
  svg.append("g").selectAll("rect").data(bins).join("rect")
    .attr("x", d => f.x(d.x0)).attr("width", d => f.x(d.x1) - f.x(d.x0))
    .attr("y", d => f.y(d.c)).attr("height", d => f.y(0) - f.y(d.c))
    .attr("fill", "#b3b3b3").attr("stroke", "#000").attr("stroke-width", 1);
  axes(f, i, xTicks, null, yTicks, yLabels);
}

function scatter(i, pts, xTicks, yTicks, yLabels) {
  const f = frame(i, rExpand(d3.extent(pts, d => d[0])), rExpand(d3.extent(pts, d => d[1])));
  const {p, x, y} = f;
  const cid = "clip" + i;
  svg.append("clipPath").attr("id", cid).append("rect")
    .attr("x", p.left).attr("y", p.top).attr("width", PW).attr("height", PH);
  svg.append("g").selectAll("circle").data(pts).join("circle")
    .attr("cx", d => x(d[0])).attr("cy", d => y(d[1])).attr("r", 3.0)
    .attr("fill", "none").attr("stroke", "#000").attr("stroke-width", 1.2);
  const dom = x.domain();
  svg.append("line").attr("clip-path", `url(#${cid})`)
    .attr("x1", x(dom[0])).attr("y1", y(dom[0]))
    .attr("x2", x(dom[1])).attr("y2", y(dom[1]))
    .attr("stroke", "#ff0000").attr("stroke-width", 2.6);
  svg.append("rect").attr("x", p.left).attr("y", p.top).attr("width", PW).attr("height", PH)
    .attr("fill", "none").attr("stroke", "#000").attr("stroke-width", 1);
  axes(f, i, xTicks, null, yTicks, yLabels);
  const LW = 91, LH = 34.3;
  const lx = p.left + PW * 0.95 - LW, ly = p.top + PH * 0.95 - LH;
  const lg = svg.append("g").attr("transform", `translate(${lx},${ly})`);
  lg.append("rect").attr("width", LW).attr("height", LH)
    .attr("fill", "#fff").attr("stroke", "#000").attr("stroke-width", 1);
  lg.append("line").attr("x1", 14).attr("x2", 40).attr("y1", LH / 2).attr("y2", LH / 2)
    .attr("stroke", "#ff0000").attr("stroke-width", 2.6);
  lg.append("text").attr("x", 52.7).attr("y", 23.3).style("font-size", "14px").text(legendLabel);
}

histogram(0, rang1Breaks, rang1Counts, hist1XTicks, hist1YTicks, hist1YLabels);
histogram(1, rang5Breaks, rang5Counts, hist5XTicks, hist5YTicks, hist5YLabels);
scatter(2, rang1VsRang2, sc12XTicks, sc12YTicks, sc12YLabels);
scatter(3, rang3VsRang5, sc35XTicks, sc35YTicks, sc35YLabels);
</script>
</body></html>
